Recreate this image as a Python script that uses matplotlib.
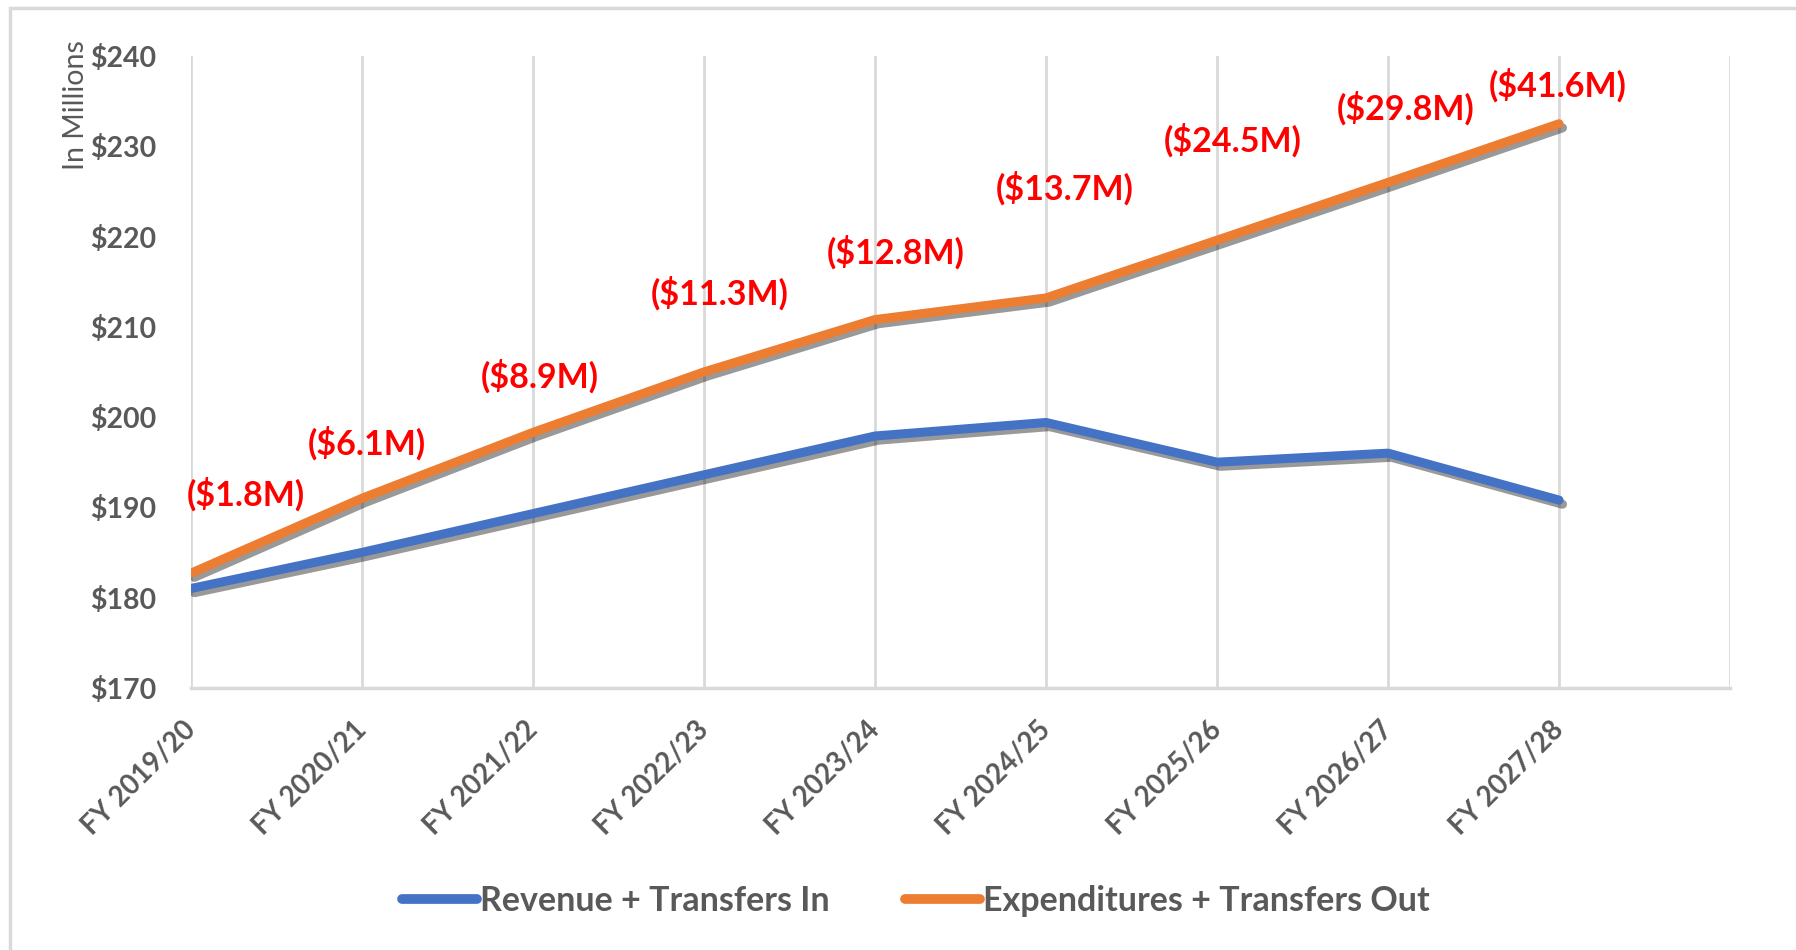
"""Revenue vs expenditures line chart."""
import matplotlib.pyplot as plt
import matplotlib.patches as patches
import matplotlib.patheffects as pe

plt.rcParams['font.family'] = ['Lato', 'DejaVu Sans']

# Data (in $ millions)
years = ['FY 2019/20', 'FY 2020/21', 'FY 2021/22', 'FY 2022/23', 'FY 2023/24',
         'FY 2024/25', 'FY 2025/26', 'FY 2026/27', 'FY 2027/28']
revenue = [181.0, 185.0, 189.3, 193.6, 197.9, 199.4, 195.0, 196.0, 190.8]
expenditures = [182.7, 191.0, 198.3, 205.0, 210.8, 213.2, 219.6, 226.0, 232.5]
gap_labels = ['($1.8M)', '($6.1M)', '($8.9M)', '($11.3M)', '($12.8M)',
              '($13.7M)', '($24.5M)', '($29.8M)', '($41.6M)']

# where the gap labels sit (category index, value)
label_x = [0.32, 1.03, 2.04, 3.09, 4.12, 5.11, 6.09, 7.10, 7.99]
label_y = [191.4, 197.1, 204.5, 213.7, 218.2, 225.3, 230.7, 234.2, 236.8]

BLUE = '#4472C4'
ORANGE = '#ED7D31'
GREY = '#595959'
GRID = '#D9D9D9'

fig = plt.figure(figsize=(17.96, 9.5), dpi=100)
ax = fig.add_axes([0.1063, 0.276, 0.857, 0.665])

# outer chart border (only top/left visible in the crop)
border = patches.Rectangle((10 / 1796, -0.05), 1.2, 1.05 - 8 / 950,
                           transform=fig.transFigure, fill=False,
                           edgecolor='#D9D9D9', linewidth=2.5, zorder=0)
fig.patches.append(border)

x = list(range(len(years)))
shadow = [pe.SimpleLineShadow(offset=(2.5, -3), alpha=0.4, shadow_color='black'),
          pe.Normal()]
ax.plot(x, revenue, color=BLUE, linewidth=6.5, solid_capstyle='round',
        solid_joinstyle='round', path_effects=shadow, label='Revenue + Transfers In',
        zorder=3)
ax.plot(x, expenditures, color=ORANGE, linewidth=6.5, solid_capstyle='round',
        solid_joinstyle='round', path_effects=shadow,
        label='Expenditures + Transfers Out', zorder=3)

for lx, ly, txt in zip(label_x, label_y, gap_labels):
    ax.text(lx, ly, txt, color='#FF0000', fontsize=24.5, fontweight='bold',
            ha='center', va='center', zorder=4)

ax.set_xlim(0, 9)
ax.set_ylim(170, 240)
ax.set_yticks(range(170, 241, 10))
ax.set_yticklabels(['$%d' % v for v in range(170, 241, 10)])
ax.set_xticks(range(10))
ax.set_xticklabels(years + [''], rotation=45, ha='right', va='center',
                   rotation_mode='anchor')

ax.grid(axis='x', color=GRID, linewidth=2)
ax.set_axisbelow(True)
for side in ['left', 'top', 'right']:
    ax.spines[side].set_visible(False)
ax.spines['bottom'].set_color(GRID)
ax.spines['bottom'].set_linewidth(2.5)
ax.tick_params(axis='both', length=0, colors=GREY)
ax.tick_params(axis='y', pad=25, labelsize=20.5)
ax.tick_params(axis='x', pad=27, labelsize=19.8)
for lab in ax.get_xticklabels() + ax.get_yticklabels():
    lab.set_fontweight('bold')

fig.text(76 / 1796, 1 - 105 / 950, 'In Millions', rotation=90, fontsize=20.5,
         color=GREY, ha='center', va='center')

leg = fig.legend(loc='center', bbox_to_anchor=(0.51, 0.052), ncol=2,
                 frameon=False, fontsize=24.5, handlelength=2.2,
                 handletextpad=0.1, columnspacing=2.2)
for t in leg.get_texts():
    t.set_color(GREY)
    t.set_fontweight('bold')
for h in leg.legend_handles:
    h.set_linewidth(7)
    h.set_path_effects([])

fig.savefig('out.png', dpi=100)
